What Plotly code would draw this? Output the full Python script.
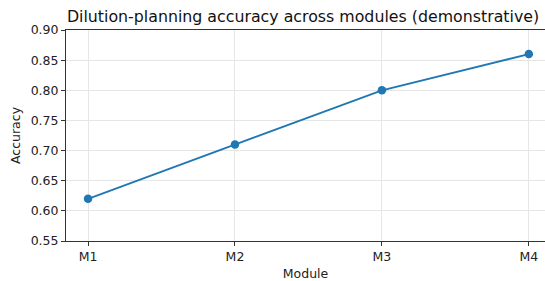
import plotly.graph_objects as go

modules = ["M1", "M2", "M3", "M4"]
accuracy = [0.62, 0.71, 0.80, 0.86]
y_ticks = [0.55, 0.60, 0.65, 0.70, 0.75, 0.80, 0.85, 0.90]

fig = go.Figure()
fig.add_trace(go.Scatter(
    x=modules, y=accuracy, mode="lines+markers",
    line=dict(color="#1f77b4", width=1.8),
    marker=dict(color="#1f77b4", size=8.5),
))

font = "DejaVu Sans, sans-serif"
fig.update_layout(
    width=545, height=281,
    margin=dict(l=66, r=0, t=30, b=40),
    paper_bgcolor="white", plot_bgcolor="white",
    showlegend=False,
    font=dict(family=font, size=12.5, color="#222"),
    title=dict(text="Dilution-planning accuracy across modules (demonstrative)",
               x=0.556, xanchor="center", y=0.94, yanchor="middle",
               font=dict(family=font, size=15.8, color="#111")),
    xaxis=dict(
        title=dict(text="Module", standoff=7, font=dict(size=12.5)),
        range=[-0.15, 3.11], showline=True, linecolor="#333", linewidth=1,
        mirror=True, ticks="outside", ticklen=4, tickcolor="#333",
        showgrid=True, gridcolor="#e6e6e6", gridwidth=1, zeroline=False,
        tickfont=dict(size=12.5),
    ),
    yaxis=dict(
        title=dict(text="Accuracy", standoff=7, font=dict(size=12.5)),
        range=[0.55, 0.90], tickvals=y_ticks,
        ticktext=[f"{v:.2f}" for v in y_ticks],
        showline=True, linecolor="#333", linewidth=1, mirror=False,
        ticks="outside", ticklen=4, tickcolor="#333",
        showgrid=True, gridcolor="#e6e6e6", gridwidth=1, zeroline=False,
        tickfont=dict(size=12.5),
    ),
)

fig.write_html(
    "out.html",
    config={"displayModeBar": False},
    post_script="document.body.style.margin='0';document.body.style.overflow='hidden';",
)
